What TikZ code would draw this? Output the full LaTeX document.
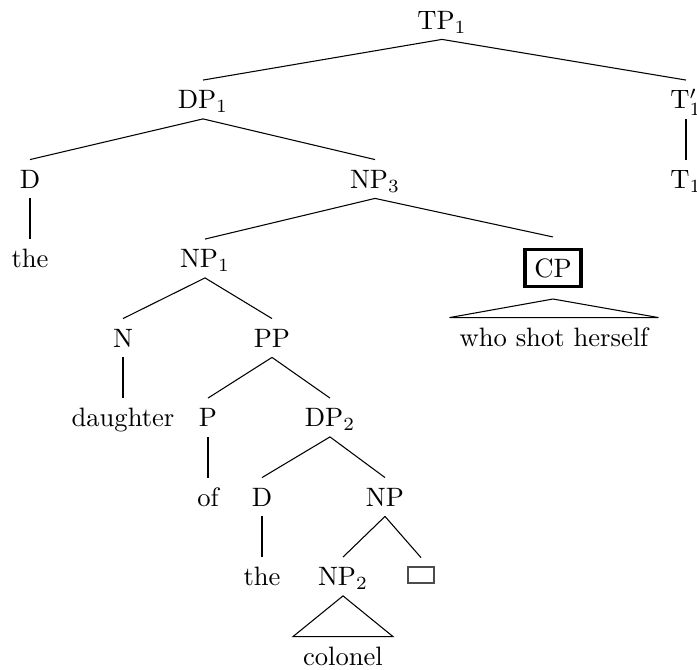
\documentclass[tikz,border=0pt]{standalone}
\begin{document}
\begin{tikzpicture}[x=0.376pt,y=-0.376pt,
  lab/.style={inner sep=3.8pt, text height=7pt, text depth=0pt, outer sep=0pt},
  cpbox/.style={draw, line width=1.2pt, inner sep=3.5pt, text height=6.83pt, text depth=0pt, outer sep=4.75pt},
  gapbox/.style={draw=black!70, line width=0.6pt, minimum width=9.6pt, minimum height=5.9pt, inner sep=0pt, outer sep=3.6pt},
  edge/.style={line width=0.4pt}]
\useasboundingbox (0,0) rectangle (697,670);
% nodes
\node[lab] (tp1) at (442,20) {TP$_1$};
\node[lab] (dp1) at (203,99.5) {DP$_1$};
\node[lab] (tbar) at (686,99.5) {$\mathrm{T}'_1$};
\node[lab] (d1) at (30,179) {D};
\node[lab] (np3) at (375,179) {NP$_3$};
\node[lab] (t1) at (686,179) {T$_1$};
\node[lab] (the1) at (30,258.5) {the};
\node[lab] (np1) at (205,258.5) {NP$_1$};
\node[cpbox] (cp) at (553,268) {CP};
\node[lab] (who) at (554,337) {who shot herself};
\node[lab] (n) at (123,338) {N};
\node[lab] (pp) at (272,338) {PP};
\node[lab] (daughter) at (123,417.5) {daughter};
\node[lab] (p) at (208,417.5) {P};
\node[lab] (dp2) at (330,417.5) {DP$_2$};
\node[lab] (of) at (208,497) {of};
\node[lab] (d2) at (262,497) {D};
\node[lab] (np) at (385,497) {NP};
\node[lab] (the2) at (262,576.5) {the};
\node[lab] (np2) at (343,576.5) {NP$_2$};
\node[gapbox] (gap) at (421,575) {};
\node[lab] (colonel) at (343,656) {colonel};
% edges
\draw[edge] (tp1.south) -- (dp1.north);
\draw[edge] (tp1.south) -- (tbar.north);
\draw[edge] (dp1.south) -- (d1.north);
\draw[edge] (dp1.south) -- (np3.north);
\draw[edge] (tbar.south) -- (t1.north);
\draw[edge] (d1.south) -- (the1.north);
\draw[edge] (np3.south) -- (np1.north);
\draw[edge] (np3.south) -- (cp.north);
\draw[edge] (cp.south) -- (who.north west) -- (who.north east) -- cycle;
\draw[edge] (np1.south) -- (n.north);
\draw[edge] (np1.south) -- (pp.north);
\draw[edge] (n.south) -- (daughter.north);
\draw[edge] (pp.south) -- (p.north);
\draw[edge] (pp.south) -- (dp2.north);
\draw[edge] (p.south) -- (of.north);
\draw[edge] (dp2.south) -- (d2.north);
\draw[edge] (dp2.south) -- (np.north);
\draw[edge] (d2.south) -- (the2.north);
\draw[edge] (np.south) -- (np2.north);
\draw[edge] (np.south) -- (gap.north);
\draw[edge] (np2.south) -- (colonel.north west) -- (colonel.north east) -- cycle;
\end{tikzpicture}
\end{document}
